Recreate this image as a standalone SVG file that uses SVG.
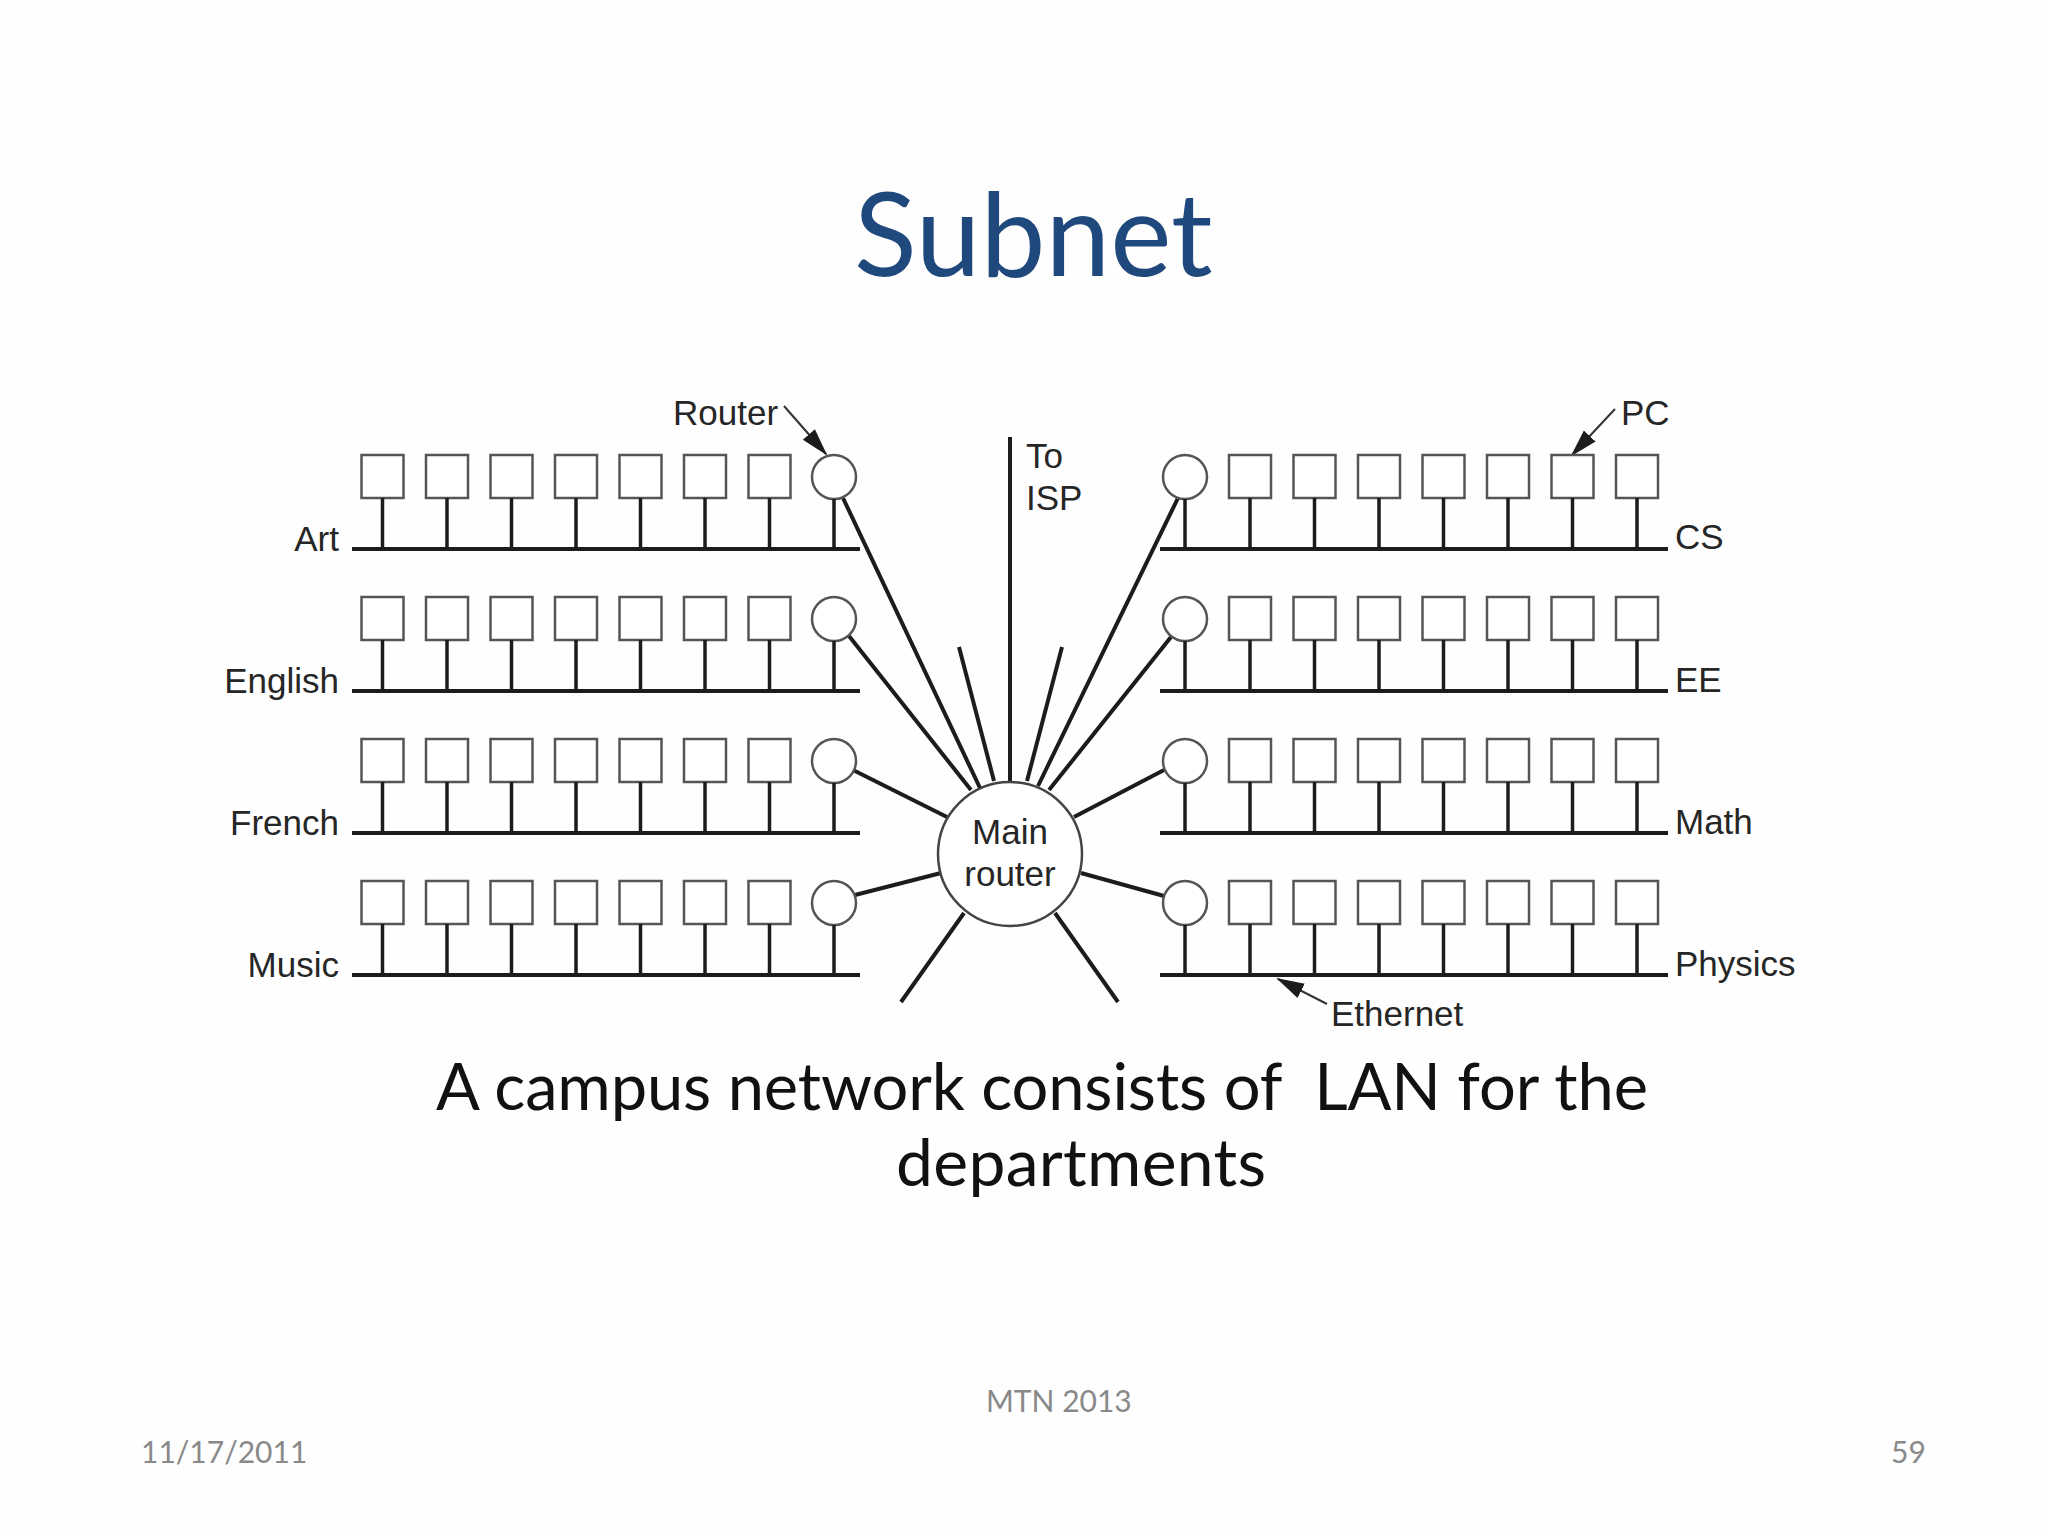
<svg xmlns="http://www.w3.org/2000/svg" width="2048" height="1536" viewBox="0 0 2048 1536">
<style>
.d{font-family:"Liberation Sans",Arial,sans-serif;font-size:35px;fill:#262626}
.s{font-family:Lato,"Open Sans",sans-serif}
.f{font-family:Lato,"Open Sans",sans-serif;font-size:30px;fill:#898989}
.w{stroke:#1c1c1c;stroke-width:3.5;fill:none}
.b{stroke:#1c1c1c;stroke-width:4;fill:none}
.t{stroke:#333;stroke-width:2;fill:none}
.n{stroke:#555;stroke-width:2.5;fill:#fff}
</style>
<defs>
<g id="pc"><rect class="n" x="-21" y="0" width="42" height="43"/><path class="w" d="M0 43V93"/></g>
<g id="rt"><circle class="n" cx="0" cy="22" r="22"/><path class="w" d="M0 44V93"/></g>
<marker id="ah" markerWidth="28" markerHeight="18" refX="26" refY="9" orient="auto" markerUnits="userSpaceOnUse"><path d="M0 1L28 9L0 17Z" fill="#1c1c1c"/></marker>
</defs>
<rect width="2048" height="1536" fill="#fefefe"/>
<text class="s" x="854" y="276" font-size="116" fill="#1f497d">Subnet</text>
<g id="connectors">
<path class="b" d="M352 549H860M352 691H860M352 833H860M352 975H860M1160 549H1668M1160 691H1668M1160 833H1668M1160 975H1668"/>
<path class="b" d="M1010 437V785M843 498L980 788M849 636L971 790M853 770L947 817M855 895L941 873M964 913L901 1002M1055 913L1118 1002M1164 896L1081 873M1164 770L1074 817M1171 637L1049 790M1178 498L1038 786M959 647L994 781M1062 647L1027 781"/>
<path class="t" marker-end="url(#ah)" d="M784 406L826 454"/>
<path class="t" marker-end="url(#ah)" d="M1615 409L1572 455"/>
<path class="t" marker-end="url(#ah)" d="M1327 1004L1278 979"/>
</g>
<g id="art"><use id="art-pc1" href="#pc" x="382.5" y="455"/><use id="art-pc2" href="#pc" x="447" y="455"/><use id="art-pc3" href="#pc" x="511.5" y="455"/><use id="art-pc4" href="#pc" x="576" y="455"/><use id="art-pc5" href="#pc" x="640.5" y="455"/><use id="art-pc6" href="#pc" x="705" y="455"/><use id="art-pc7" href="#pc" x="769.5" y="455"/><use id="art-router" href="#rt" x="834" y="455"/></g>
<g id="english"><use id="english-pc1" href="#pc" x="382.5" y="597"/><use id="english-pc2" href="#pc" x="447" y="597"/><use id="english-pc3" href="#pc" x="511.5" y="597"/><use id="english-pc4" href="#pc" x="576" y="597"/><use id="english-pc5" href="#pc" x="640.5" y="597"/><use id="english-pc6" href="#pc" x="705" y="597"/><use id="english-pc7" href="#pc" x="769.5" y="597"/><use id="english-router" href="#rt" x="834" y="597"/></g>
<g id="french"><use id="french-pc1" href="#pc" x="382.5" y="739"/><use id="french-pc2" href="#pc" x="447" y="739"/><use id="french-pc3" href="#pc" x="511.5" y="739"/><use id="french-pc4" href="#pc" x="576" y="739"/><use id="french-pc5" href="#pc" x="640.5" y="739"/><use id="french-pc6" href="#pc" x="705" y="739"/><use id="french-pc7" href="#pc" x="769.5" y="739"/><use id="french-router" href="#rt" x="834" y="739"/></g>
<g id="music"><use id="music-pc1" href="#pc" x="382.5" y="881"/><use id="music-pc2" href="#pc" x="447" y="881"/><use id="music-pc3" href="#pc" x="511.5" y="881"/><use id="music-pc4" href="#pc" x="576" y="881"/><use id="music-pc5" href="#pc" x="640.5" y="881"/><use id="music-pc6" href="#pc" x="705" y="881"/><use id="music-pc7" href="#pc" x="769.5" y="881"/><use id="music-router" href="#rt" x="834" y="881"/></g>
<g id="cs"><use id="cs-router" href="#rt" x="1185" y="455"/><use id="cs-pc1" href="#pc" x="1250" y="455"/><use id="cs-pc2" href="#pc" x="1314.5" y="455"/><use id="cs-pc3" href="#pc" x="1379" y="455"/><use id="cs-pc4" href="#pc" x="1443.5" y="455"/><use id="cs-pc5" href="#pc" x="1508" y="455"/><use id="cs-pc6" href="#pc" x="1572.5" y="455"/><use id="cs-pc7" href="#pc" x="1637" y="455"/></g>
<g id="ee"><use id="ee-router" href="#rt" x="1185" y="597"/><use id="ee-pc1" href="#pc" x="1250" y="597"/><use id="ee-pc2" href="#pc" x="1314.5" y="597"/><use id="ee-pc3" href="#pc" x="1379" y="597"/><use id="ee-pc4" href="#pc" x="1443.5" y="597"/><use id="ee-pc5" href="#pc" x="1508" y="597"/><use id="ee-pc6" href="#pc" x="1572.5" y="597"/><use id="ee-pc7" href="#pc" x="1637" y="597"/></g>
<g id="math"><use id="math-router" href="#rt" x="1185" y="739"/><use id="math-pc1" href="#pc" x="1250" y="739"/><use id="math-pc2" href="#pc" x="1314.5" y="739"/><use id="math-pc3" href="#pc" x="1379" y="739"/><use id="math-pc4" href="#pc" x="1443.5" y="739"/><use id="math-pc5" href="#pc" x="1508" y="739"/><use id="math-pc6" href="#pc" x="1572.5" y="739"/><use id="math-pc7" href="#pc" x="1637" y="739"/></g>
<g id="physics"><use id="physics-router" href="#rt" x="1185" y="881"/><use id="physics-pc1" href="#pc" x="1250" y="881"/><use id="physics-pc2" href="#pc" x="1314.5" y="881"/><use id="physics-pc3" href="#pc" x="1379" y="881"/><use id="physics-pc4" href="#pc" x="1443.5" y="881"/><use id="physics-pc5" href="#pc" x="1508" y="881"/><use id="physics-pc6" href="#pc" x="1572.5" y="881"/><use id="physics-pc7" href="#pc" x="1637" y="881"/></g>
<g id="main-router"><circle cx="1010" cy="854" r="72" fill="#fff" stroke="#444" stroke-width="2.5"/><text class="d" x="1010" y="844" text-anchor="middle">Main</text><text class="d" x="1010" y="886" text-anchor="middle">router</text></g>
<g id="labels">
<text class="d" x="339" y="551" text-anchor="end">Art</text>
<text class="d" x="339" y="693" text-anchor="end">English</text>
<text class="d" x="339" y="835" text-anchor="end" font-size="34">French</text>
<text class="d" x="339" y="977" text-anchor="end">Music</text>
<text class="d" x="1675" y="549">CS</text>
<text class="d" x="1675" y="692">EE</text>
<text class="d" x="1675" y="834">Math</text>
<text class="d" x="1675" y="976">Physics</text>
<text class="d" x="673" y="425">Router</text>
<text class="d" x="1621" y="425">PC</text>
<text class="d" x="1026" y="468">To</text>
<text class="d" x="1026" y="510">ISP</text>
<text class="d" x="1331" y="1026">Ethernet</text>
</g>
<text class="s" x="436" y="1110" font-size="65" fill="#111" xml:space="preserve" textLength="1212">A campus network consists of  LAN for the</text>
<text class="s" x="896" y="1186" font-size="66" fill="#111" textLength="370">departments</text>
<text class="f" x="986" y="1412">MTN 2013</text>
<text class="f" x="141" y="1463">11/17/2011</text>
<text class="f" x="1891" y="1463">59</text>
</svg>
